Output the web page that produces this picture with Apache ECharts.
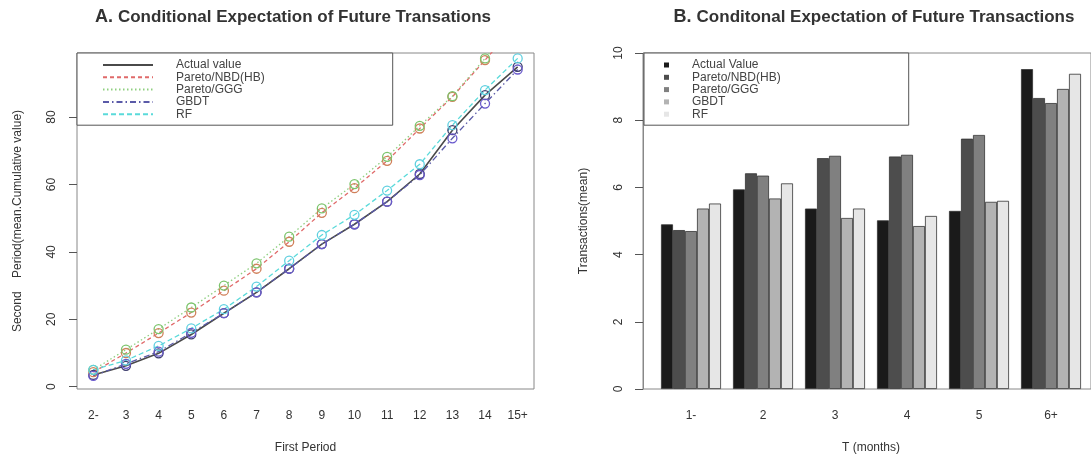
<!DOCTYPE html>
<html><head><meta charset="utf-8">
<script src="https://cdn.jsdelivr.net/npm/echarts@6/dist/echarts.min.js"></script>
<style>html,body{margin:0;padding:0;background:#fff}#c{width:1091px;height:462px}</style>
</head><body><div id="c"></div>
<script>
// ---- Panel A data ----
const periodsA = ['2-','3','4','5','6','7','8','9','10','11','12','13','14','15+'];
const actualA = [3.5,6.2,9.9,15.5,21.8,28.0,35.0,42.3,48.2,54.9,63.1,76.1,86.5,94.9];
const nbdA    = [4.3,10.0,15.9,22.0,28.5,35.0,43.0,51.6,58.9,67.0,76.6,86.0,96.9,108];
const gggA    = [5.0,11.0,17.1,23.5,30.0,36.6,44.5,52.9,60.1,68.2,77.4,86.2,97.4,109];
const gbdtA   = [3.2,6.8,10.4,16.0,21.8,28.0,35.0,42.3,48.2,54.9,62.8,73.7,84.0,94.1];
const rfA     = [5.0,7.8,12.1,17.3,23.0,29.7,37.4,45.0,51.0,58.2,66.0,77.6,88.0,97.4];
const yTicksA = [0,20,40,60,80];
const namesA  = ['Actual value','Pareto/NBD(HB)','Pareto/GGG','GBDT','RF'];

// ---- Panel B data ----
const monthsB = ['1-','2','3','4','5','6+'];
const actualB = [4.90,5.94,5.37,5.02,5.30,9.52];
const nbdB    = [4.73,6.42,6.87,6.92,7.45,8.66];
const gggB    = [4.70,6.35,6.94,6.97,7.56,8.51];
const gbdtB   = [5.37,5.67,5.09,4.85,5.57,8.93];
const rfB     = [5.52,6.12,5.37,5.15,5.60,9.38];
const namesB  = ['Actual Value','Pareto/NBD(HB)','Pareto/GGG','GBDT','RF'];

const FONT = 'Liberation Sans';
const lineColors = ['#4a4a4a','#e06a6a','#8fcf80','#5a5aa8','#5adada'];
const symColors  = ['#3e3e6e','#d0805a','#7cc46c','#6a5acd','#60d0e0'];
const dashes = ['solid',[4,3],[1.5,2.5],[6,3,1.5,3],[5,3]];
const barColors = ['#1a1a1a','#4d4d4d','#808080','#b3b3b3','#e6e6e6'];
const seriesA = [actualA,nbdA,gggA,gbdtA,rfA];
const seriesB = [actualB,nbdB,gggB,gbdtB,rfB];

const chart = echarts.init(document.getElementById('c'), null, {renderer:'canvas'});

const series = [];
seriesA.forEach((d,i)=>{
  series.push({
    type:'line', name:namesA[i], xAxisIndex:0, yAxisIndex:0, data:d,
    symbol:'circle', symbolSize:9, clip:true,
    lineStyle:{color:lineColors[i], width: i===0?1.6:1.3, type:dashes[i]},
    itemStyle:{color:'transparent', borderColor:symColors[i], borderWidth:1.3},
    animation:false
  });
});
seriesB.forEach((d,i)=>{
  series.push({
    type:'bar', name:namesB[i], xAxisIndex:1, yAxisIndex:1, data:d,
    barGap:'0%', barCategoryGap:'16.67%',
    itemStyle:{color:barColors[i], borderColor:'#333', borderWidth:0.8},
    animation:false
  });
});

const axisLabelStyle = {color:'#333', fontSize:12, fontFamily:FONT};
const nameStyle = {color:'#333', fontSize:12, fontFamily:FONT};
const titleRich = {a:{fontSize:18, color:'#333', fontFamily:FONT}, b:{fontSize:17, fontWeight:'bold', color:'#333', fontFamily:FONT}};

chart.setOption({
  backgroundColor:'#fff',
  textStyle:{fontFamily:FONT},
  animation:false,
  title:[
    {text:'{a|A.} {b|Conditional Expectation of Future Transations}', left:293, top:8, textAlign:'center', padding:0,
     textStyle:{rich:titleRich}},
    {text:'{a|B.} {b|Conditonal Expectation of Future Transactions}', left:874, top:8, textAlign:'center', padding:0,
     textStyle:{rich:titleRich}}
  ],
  grid:[
    {left:77, top:53, width:457, height:336, show:true, borderColor:'#888', borderWidth:1, backgroundColor:'transparent'},
    {left:655, top:53, width:432, height:336},
    {left:643, top:53, width:460, height:336, show:true, borderColor:'#888', borderWidth:1, backgroundColor:'transparent'}
  ],
  xAxis:[
    {gridIndex:0, type:'category', data:periodsA, boundaryGap:true,
     axisLine:{show:false}, axisTick:{alignWithLabel:true, length:8, lineStyle:{color:'#555'}},
     axisLabel:Object.assign({margin:21, interval:0}, axisLabelStyle),
     name:'First Period', nameLocation:'middle', nameGap:53, nameTextStyle:nameStyle},
    {gridIndex:1, type:'category', data:monthsB,
     axisLine:{show:false}, axisTick:{show:false},
     axisLabel:Object.assign({margin:21, interval:0}, axisLabelStyle),
     name:'T (months)', nameLocation:'middle', nameGap:53, nameTextStyle:nameStyle},
    {gridIndex:2, type:'value', show:false}
  ],
  yAxis:[
    {gridIndex:0, type:'value', min:-0.68, max:99,
     axisLine:{show:false}, splitLine:{show:false},
     axisTick:{show:true, length:8, customValues:yTicksA, lineStyle:{color:'#555'}},
     axisLabel:Object.assign({rotate:90, margin:19, customValues:yTicksA}, axisLabelStyle),
     name:'Second    Period(mean.Cumulative value)', nameLocation:'middle', nameGap:53, nameTextStyle:nameStyle},
    {gridIndex:1, type:'value', min:0, max:10, interval:2, offset:12,
     axisLine:{show:true, lineStyle:{color:'#888'}}, splitLine:{show:false},
     axisTick:{show:true, length:8, lineStyle:{color:'#555'}},
     axisLabel:Object.assign({rotate:90, margin:18}, axisLabelStyle),
     name:'Transactions(mean)', nameLocation:'middle', nameGap:53, nameTextStyle:nameStyle},
    {gridIndex:2, type:'value', show:false}
  ],
  legend:[
    {data:namesA, orient:'vertical', left:77, top:53, padding:[6,128,5,25],
     itemWidth:50, itemHeight:10, itemGap:0.3, borderColor:'#555', borderWidth:1, backgroundColor:'#fff',
     itemStyle:{opacity:0}, selectedMode:false,
     textStyle:{fontSize:12, lineHeight:10, color:'#444', fontFamily:FONT, padding:[0,0,0,18]}},
    {data:namesB.map((n,i)=>({name:n, icon:'rect', itemStyle:{color:barColors[i], borderWidth:0, opacity:1}})),
     orient:'vertical', left:644, top:53, padding:[6,128,5,20],
     itemWidth:5, itemHeight:5, itemGap:0.3, borderColor:'#555', borderWidth:1, backgroundColor:'#fff', selectedMode:false,
     textStyle:{fontSize:12, lineHeight:10, color:'#444', fontFamily:FONT, padding:[0,0,0,18]}}
  ],
  series:series
});
</script></body></html>
